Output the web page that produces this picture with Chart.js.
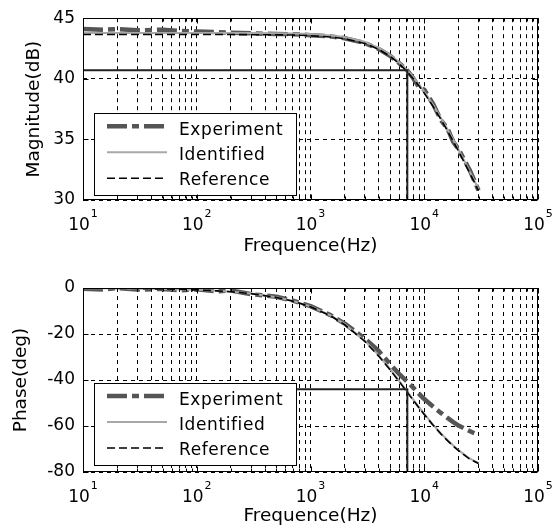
<!DOCTYPE html>
<html><head><meta charset="utf-8">
<script src="https://cdn.jsdelivr.net/npm/chart.js@4.4.1/dist/chart.umd.min.js"></script>
<style>
html,body{margin:0;padding:0;background:#fff;}
#wrap{position:relative;width:558px;height:529px;overflow:hidden;background:#fff;}
canvas{position:absolute;left:0;}
#c1{top:0;} #c2{top:260px;}
</style></head><body>
<div id="wrap"><canvas id="c1" width="558" height="260"></canvas><canvas id="c2" width="558" height="269"></canvas></div>
<script>
const FONT = "'DejaVu Sans', sans-serif";

// ---- data ----
const freq = [10, 15, 20, 30, 50, 70, 100, 150, 200, 300, 500, 700, 1000, 1500, 2000, 3000, 4000, 5000, 6000, 7000, 8000, 9000, 10000, 12000, 14000, 16000, 18000, 20000, 25000, 30000];

const magExperiment = [44.1, 44.05, 44.1, 44.0, 44.05, 43.95, 43.9, 43.85, 43.8, 43.75, 43.7, 43.68, 43.6, 43.5, 43.35, 42.95, 42.45, 41.9, 41.3, 40.75, 40.05, 39.3, 39.1, 37.9, 36.6, 35.9, 34.8, 34.2, 32.5, 30.8];
const magIdentified = [43.78, 43.78, 43.78, 43.78, 43.78, 43.78, 43.78, 43.78, 43.78, 43.77, 43.76, 43.74, 43.69, 43.58, 43.44, 43.05, 42.55, 41.99, 41.39, 40.77, 40.15, 39.54, 38.95, 37.83, 36.79, 35.84, 34.97, 34.16, 32.4, 30.91];
const magReference = [43.65, 43.65, 43.65, 43.65, 43.65, 43.65, 43.65, 43.65, 43.65, 43.64, 43.63, 43.61, 43.56, 43.45, 43.31, 42.92, 42.42, 41.86, 41.26, 40.64, 40.02, 39.41, 38.82, 37.7, 36.66, 35.71, 34.84, 34.03, 32.27, 30.78];

const phaseExperiment = [-0.3, -0.6, 0.0, -0.7, -0.4, -1.0, -0.6, -1.5, -1.1, -2.7, -3.8, -5.5, -7.9, -11.8, -15.5, -22.0, -27.5, -33.0, -37.3, -40.5, -43.3, -46.0, -48.3, -51.6, -54.3, -56.5, -58.3, -59.8, -62.2, -64.0];
const phaseIdentified = [-0.1, -0.1, -0.2, -0.3, -0.4, -0.6, -0.8, -1.2, -1.6, -2.4, -4.0, -5.6, -8.0, -11.9, -15.7, -22.9, -29.4, -35.2, -40.3, -44.7, -48.5, -51.8, -54.7, -59.5, -63.2, -66.1, -68.5, -70.5, -74.1, -76.1];
const phaseReference = [-0.08, -0.12, -0.16, -0.25, -0.41, -0.57, -0.82, -1.23, -1.64, -2.45, -4.09, -5.71, -8.13, -12.09, -15.95, -23.2, -29.74, -35.54, -40.6, -45.0, -48.81, -52.13, -55.01, -59.74, -63.43, -66.37, -68.75, -70.71, -74.36, -76.3];

const cutoffMagX = [10, 7100, 7100];
const cutoffMagY = [40.7, 40.7, 30];
const cutoffPhaseX = [750, 7100, 7100];
const cutoffPhaseY = [-44, -44, -80];

const xTickExponents = [1, 2, 3, 4, 5];
const magTicks = [30, 35, 40, 45];
const phaseTicks = [-80, -60, -40, -20, 0];
const legendLabels = ['Experiment', 'Identified', 'Reference'];

// ---- helpers ----
function pts(xs, ys) { return xs.map((x, i) => ({x: x, y: ys[i]})); }

const gridVals = [];
for (let e = xTickExponents[0]; e < xTickExponents[xTickExponents.length - 1]; e++) {
  for (let m = 1; m < 10; m++) gridVals.push(m * Math.pow(10, e));
}
gridVals.push(Math.pow(10, xTickExponents[xTickExponents.length - 1]));

const styles = {
  Experiment: {color: '#555555', width: 4.5, dash: [20, 5, 7, 5]},
  Identified: {color: '#a8a8a8', width: 2, dash: []},
  Reference: {color: '#000000', width: 1.6, dash: [8, 4]}
};

function ds(label, data, order) {
  const st = styles[label];
  return {label, data, borderColor: st.color, borderWidth: st.width, borderDash: st.dash,
    pointRadius: 0, fill: false, tension: 0, order, borderCapStyle: 'butt', borderJoinStyle: 'round'};
}

const decorPlugin = {
  id: 'decor',
  afterDatasetsDraw(chart) {
    const {ctx, chartArea: a, scales} = chart;
    // legend box
    const L = a.left + 11, T = a.top + 95, W = 202, H = 82;
    ctx.save();
    ctx.fillStyle = '#fff';
    ctx.fillRect(L, T, W, H);
    ctx.strokeStyle = '#000'; ctx.lineWidth = 1; ctx.setLineDash([]);
    ctx.strokeRect(Math.round(L) + 0.5, Math.round(T) + 0.5, W, H);
    legendLabels.forEach((lab, i) => {
      const st = styles[lab];
      const y = T + 13 + 26 * i;
      ctx.beginPath();
      ctx.strokeStyle = st.color; ctx.lineWidth = st.width; ctx.setLineDash(st.dash); ctx.lineCap = 'butt';
      ctx.moveTo(L + 13, y); ctx.lineTo(L + 73, y); ctx.stroke();
      ctx.setLineDash([]);
      ctx.fillStyle = '#000';
      ctx.font = '17px ' + FONT;
      ctx.textAlign = 'left'; ctx.textBaseline = 'alphabetic';
      try { ctx.letterSpacing = '0.6px'; } catch (e) {}
      ctx.fillText(lab, L + 85, T + 22 + 25 * i);
      try { ctx.letterSpacing = '0px'; } catch (e) {}
    });
    // frame
    ctx.setLineDash([]);
    ctx.strokeStyle = '#000'; ctx.lineWidth = 1;
    const l = Math.round(a.left) + 0.5, r = Math.round(a.right) - 0.5, t = Math.round(a.top) + 0.5, b = Math.round(a.bottom) - 0.5;
    ctx.strokeRect(l, t, r - l, b - t);
    // inward ticks
    ctx.beginPath();
    gridVals.forEach(v => {
      const px = Math.round(scales.x.getPixelForValue(v)) + 0.5;
      const major = Math.abs(Math.log10(v) - Math.round(Math.log10(v))) < 1e-9;
      const len = major ? 5 : 3;
      ctx.moveTo(px, b); ctx.lineTo(px, b - len);
      ctx.moveTo(px, t); ctx.lineTo(px, t + len);
    });
    scales.y.ticks.forEach(tk => {
      const py = Math.round(scales.y.getPixelForValue(tk.value)) + 0.5;
      ctx.moveTo(l, py); ctx.lineTo(l + 5, py);
      ctx.moveTo(r, py); ctx.lineTo(r - 5, py);
    });
    ctx.stroke();
    ctx.restore();
  },
  afterDraw(chart) {
    const {ctx, chartArea: a, scales} = chart;
    ctx.save();
    ctx.fillStyle = '#000';
    ctx.textAlign = 'left'; ctx.textBaseline = 'alphabetic';
    xTickExponents.forEach(e => {
      const px = scales.x.getPixelForValue(Math.pow(10, e));
      ctx.font = '17px ' + FONT;
      const w10 = ctx.measureText('10').width;
      ctx.font = '11px ' + FONT;
      const we = ctx.measureText(String(e)).width;
      const x0 = px - (w10 + 1 + we) / 2;
      const base = a.bottom + 29.5;
      ctx.font = '17px ' + FONT;
      ctx.fillText('10', x0, base);
      ctx.font = '11px ' + FONT;
      ctx.fillText(String(e), x0 + w10 + 1, base - 13);
    });
    ctx.restore();
  }
};

function makeChart(id, opts) {
  return new Chart(document.getElementById(id), {
    type: 'line',
    data: {
      datasets: [
        ds('Reference', pts(freq, opts.ref), 0),
        ds('Identified', pts(freq, opts.ident), 1),
        ds('Experiment', pts(freq, opts.exp), 2),
        {label: 'cutoff', data: pts(opts.cutX, opts.cutY), borderColor: '#222', borderWidth: 2, pointRadius: 0, fill: false, tension: 0, order: -1}
      ]
    },
    options: {
      responsive: false,
      animation: false,
      devicePixelRatio: 1,
      layout: {padding: {top: opts.padTop, right: 20, left: 0, bottom: 0}},
      plugins: {legend: {display: false}, tooltip: {enabled: false}},
      scales: {
        x: {
          type: 'logarithmic', min: 10, max: 100000,
          afterBuildTicks: s => { s.ticks = gridVals.map(v => ({value: v})); },
          afterFit: s => { s.height = opts.xHeight; },
          ticks: {display: false},
          grid: {color: '#000', lineWidth: 1, drawTicks: false},
          border: {display: false, dash: [4, 4]},
          title: {display: true, text: 'Frequence(Hz)', color: '#000', font: {family: FONT, size: 18.5}, padding: {top: 0, bottom: opts.xTitlePad}}
        },
        y: {
          type: 'linear', min: opts.yTicks[0], max: opts.yTicks[opts.yTicks.length - 1],
          afterBuildTicks: s => { s.ticks = opts.yTicks.map(v => ({value: v})); },
          afterFit: s => { s.width = 83; },
          ticks: {color: '#000', font: {family: FONT, size: 17}, padding: 8, callback: v => String(v)},
          grid: {color: '#000', lineWidth: 1, drawTicks: false},
          border: {display: false, dash: [4, 4]},
          title: {display: true, text: opts.yTitle, color: '#000', font: {family: FONT, size: 18.5}, padding: {top: opts.yTitlePad, bottom: 0}}
        }
      }
    },
    plugins: [decorPlugin]
  });
}

makeChart('c1', {ref: magReference, ident: magIdentified, exp: magExperiment, cutX: cutoffMagX, cutY: cutoffMagY,
  yTicks: magTicks, yTitle: 'Magnitude(dB)', padTop: 16, xHeight: 60, xTitlePad: 3, yTitlePad: 23});
makeChart('c2', {ref: phaseReference, ident: phaseIdentified, exp: phaseExperiment, cutX: cutoffPhaseX, cutY: cutoffPhaseY,
  yTicks: phaseTicks, yTitle: 'Phase(deg)', padTop: 28, xHeight: 57, xTitlePad: 2, yTitlePad: 10});
</script>
</body></html>
